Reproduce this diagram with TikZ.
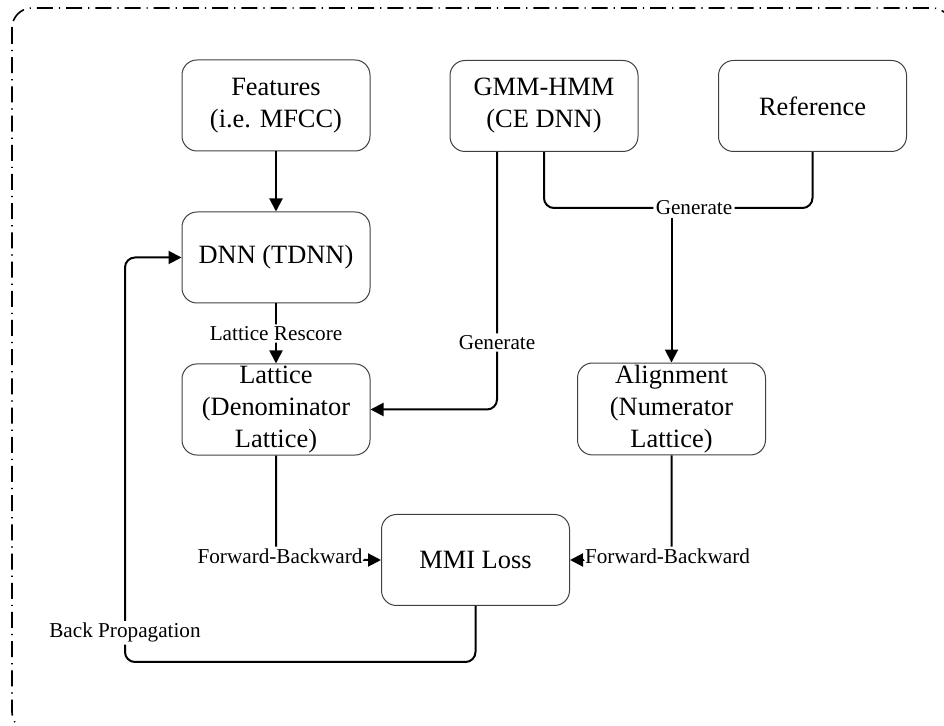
\documentclass[tikz,border=0pt]{standalone}
\usepackage{fontspec}
\setmainfont{Liberation Serif}
\usetikzlibrary{arrows.meta}

\tikzset{
  box/.style={draw=black!75, line width=0.5pt, rounded corners=7.5pt, minimum width=94pt, minimum height=45.5pt, align=center, inner sep=1pt, font=\fontsize{13.2}{16}\selectfont},
  lbl/.style={fill=white, inner sep=1pt, font=\fontsize{10.6}{12}\selectfont},
  link/.style={line width=1pt, rounded corners=5pt},
  conn/.style={link, -{Triangle[length=6.5pt,width=6.5pt]}},
  frame/.style={line width=0.8pt, dash pattern=on 8pt off 3pt on 0.6pt off 3pt, rounded corners=10pt}
}

\begin{document}
\begin{tikzpicture}[x=0.5pt, y=-0.5pt]
\useasboundingbox (0,0) rectangle (944,726);
\clip (0,0) rectangle (944,726);
\draw[frame] (12,8) rectangle (952,732);

\node[box] (feat) at (276,105.5) {Features\\(i.e. MFCC)};
\node[box] (gmm) at (544,106) {GMM-HMM\\(CE DNN)};
\node[box] (ref) at (812.5,106) {Reference};
\node[box] (dnn) at (276,257.5) {DNN (TDNN)};
\node[box] (lat) at (276,409.5) {Lattice\\(Denominator\\Lattice)};
\node[box] (align) at (671.5,409) {Alignment\\(Numerator\\Lattice)};
\node[box] (mmi) at (475.5,560) {MMI Loss};

\draw[conn] (feat) -- (dnn);
\draw[conn] (dnn) -- node[lbl] {Lattice Rescore} (lat);
\draw[conn] ([xshift=-23.5pt]gmm.south) |- node[lbl,pos=0.37] {Generate} (lat.east);

% GMM-HMM and reference together give the alignment
\node[lbl] (gen) at (694,208) {Generate};
\draw[link] (gmm.south) |- (gen.west);
\draw[link] (ref.south) |- (gen.east);
\draw[conn] (gen.south -| align.north) -- (align.north);

\draw[conn] (lat.south) |- node[lbl,pos=0.5,xshift=2pt,yshift=2pt] {Forward-Backward} (mmi.west);
\draw[conn] (align.south) |- node[lbl,pos=0.5,xshift=-2pt,yshift=2pt] {Forward-Backward} (mmi.east);

% loss goes back to the network
\coordinate (bend) at (125,662);
\draw[conn] (mmi.south) |- (bend) |- node[lbl,pos=0.036] {Back Propagation} (dnn.west);
\end{tikzpicture}
\end{document}
